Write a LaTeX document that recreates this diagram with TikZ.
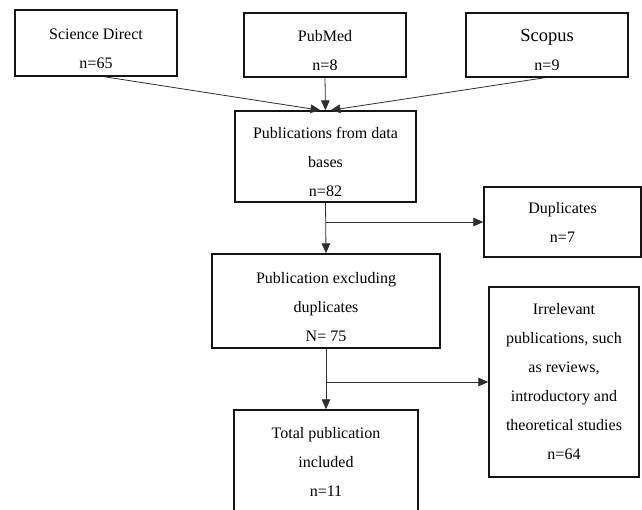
\documentclass[tikz,border=0pt]{standalone}
\usepackage{fontspec}
\setmainfont{Liberation Serif}
\usetikzlibrary{arrows.meta}
\definecolor{boxline}{RGB}{20,20,20}
\definecolor{arrowgray}{RGB}{45,45,45}
\newcommand{\lowstrut}{\rule{0pt}{23pt}}

\begin{document}
\begin{tikzpicture}[x=1pt, y=-1pt,
  fbox/.style={draw=boxline, line width=1.4pt, fill=white, align=center, inner sep=0pt, font=\fontsize{16}{29}\selectfont},
  flow/.style={-{Triangle[length=3.5mm, width=3mm]}, arrowgray, line width=0.8pt},
]
\useasboundingbox (0,0) rectangle (642,510);
\node[fbox, minimum width=162pt, minimum height=66pt] (sd) at (96,43) {\lowstrut Science Direct\\n=65};
\node[fbox, minimum width=162pt, minimum height=64pt] (pm) at (325,45) {\lowstrut PubMed\\n=8};
\node[fbox, minimum width=162pt, minimum height=64pt] (sc) at (547,45) {\lowstrut{\fontsize{18.5}{29}\selectfont Scopus}\\n=9};
\node[fbox, minimum width=181pt, minimum height=91pt] (pub) at (325.5,156.5) {\lowstrut Publications from data\\bases\\n=82};
\node[fbox, minimum width=157pt, minimum height=70pt] (dup) at (562.5,222) {Duplicates\\n=7};
\node[fbox, minimum width=228pt, minimum height=94pt] (excl) at (326,301) {\lowstrut Publication excluding\\duplicates\\N= 75};
\node[fbox, minimum width=150pt, minimum height=190pt] (irr) at (564,382) {Irrelevant\\publications, such\\as reviews,\\introductory and\\theoretical studies\\n=64};
\node[fbox, minimum width=184pt, minimum height=104pt] (tot) at (326,462) {Total publication\\included\\n=11};
\draw[flow] ([xshift=8pt]sd.south) -- ([xshift=-5pt]pub.north);
\draw[flow] (pm.south) -- (pub.north);
\draw[flow] ([xshift=-2pt]sc.south) -- ([xshift=5pt]pub.north);
\draw[flow] (pub.south) -- (excl.north);
\draw[flow] (pub.south |- dup.west) -- (dup.west);
\draw[flow] (excl.south) -- (tot.north);
\draw[flow] (excl.south |- irr.west) -- (irr.west);
\end{tikzpicture}
\end{document}
